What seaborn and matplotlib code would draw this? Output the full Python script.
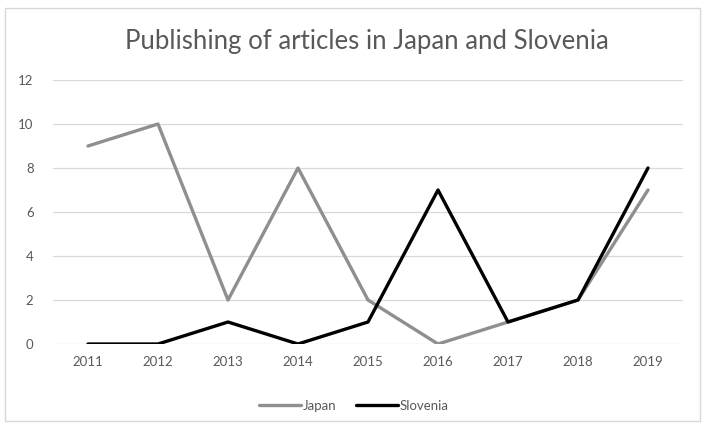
import matplotlib
matplotlib.use("Agg")
import matplotlib.pyplot as plt
import seaborn as sns
import pandas as pd
from matplotlib.patches import Rectangle

years = [2011, 2012, 2013, 2014, 2015, 2016, 2017, 2018, 2019]
japan = [9, 10, 2, 8, 2, 0, 1, 2, 7]
slovenia = [0, 0, 1, 0, 1, 7, 1, 2, 8]
series_names = ["Japan", "Slovenia"]
yticks = [0, 2, 4, 6, 8, 10, 12]

df = pd.DataFrame({
    "Year": years * 2,
    "Count": japan + slovenia,
    "Country": [series_names[0]] * len(years) + [series_names[1]] * len(years),
})

sns.set_theme(style="white")
plt.rcParams["font.family"] = ["Lato", "DejaVu Sans"]

fig = plt.figure(figsize=(7.08, 4.30), dpi=100)
ax = fig.add_axes([53 / 708, 1 - 344 / 430, 630 / 708, 264 / 430])

sns.lineplot(data=df, x="Year", y="Count", hue="Country",
             palette={"Japan": "#8f8f8f", "Slovenia": "#000000"},
             linewidth=2.4, ax=ax, legend=True)

ax.set_xlim(2010.5, 2019.5)
ax.set_ylim(0, 12)
ax.set_yticks(yticks)
ax.set_xticks(years)
ax.set_xticklabels([str(y) for y in years])
ax.grid(axis="y", color="#d9d9d9", linewidth=0.9)
ax.set_axisbelow(True)
for s in ax.spines.values():
    s.set_visible(False)
ax.tick_params(axis="both", length=0, labelsize=9.5, colors="#595959")
ax.tick_params(axis="x", pad=9)
ax.tick_params(axis="y", pad=14)
ax.set_xlabel("")
ax.set_ylabel("")

fig.text(367 / 708, 1 - 42 / 430, "Publishing of articles in Japan and Slovenia",
         ha="center", va="center", fontsize=18.5, color="#595959")

leg = ax.legend(loc="center", bbox_to_anchor=(0.5, 1 - 406 / 430), bbox_transform=fig.transFigure,
                ncol=2, frameon=False, fontsize=9.5, handlelength=3.2, columnspacing=1.5,
                handletextpad=0.1)
for t in leg.get_texts():
    t.set_color("#595959")

fig.patches.append(Rectangle((5 / 708, 1 - 421 / 430), 695 / 708, 413 / 430,
                             transform=fig.transFigure, fill=False,
                             edgecolor="#d9d9d9", linewidth=1.0))

fig.savefig("out.png", dpi=100)
